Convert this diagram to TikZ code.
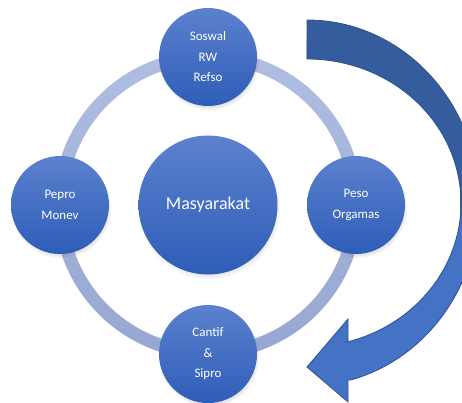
\documentclass[tikz,border=0pt]{standalone}
\usepackage{fontspec}
\setmainfont{Carlito}
\usetikzlibrary{shadows, positioning}

\definecolor{nodetop}{RGB}{92,129,205}
\definecolor{nodebot}{RGB}{46,93,184}
\definecolor{ringtop}{RGB}{176,190,226}
\definecolor{ringbot}{RGB}{150,166,208}
\definecolor{arrowdark}{RGB}{53,92,157}
\definecolor{arrowlight}{RGB}{68,114,196}
\definecolor{arrowline}{RGB}{47,82,143}

\begin{document}
\begin{tikzpicture}[x=1pt, y=-1pt,
  unit/.style={circle, inner sep=0pt, minimum size=98pt,
               top color=nodetop, bottom color=nodebot, text=white,
               font=\fontsize{13}{20.5}\selectfont, align=center,
               circular drop shadow={shadow xshift=1pt, shadow yshift=-3pt,
                                     shadow scale=1.03, opacity=0.35}},
  core/.style={unit, minimum size=139pt, font=\fontsize{18}{22}\selectfont}
]
  \useasboundingbox (0,0) rectangle (462,403);

  % Ring
  \shade[top color=ringtop, bottom color=ringbot, even odd rule]
    (208,205) circle[radius=154.5] circle[radius=141.5];

  % Circles
  \node[core] (masy) at (208,205) {Masyarakat};
  \node[unit] (soswal) at (208,57) {Soswal\\RW\\Refso};
  \node[unit] (pepro) at (60,205) {Pepro\\Monev};
  \node[unit] (peso) at (356,205) {Peso\\Orgamas};
  \node[unit] (cantif) at (208,354) {Cantif\\\&\\Sipro};

  % Curved arrow
  \begin{scope}
    \clip (0,0) rectangle (462,403);
    \fill[arrowlight] (307,20)
      arc[start angle=-90, end angle=75.3, x radius=172, y radius=183]
      -- (348,380) -- (348,402) -- (307,367) -- (348,319) -- (348,342)
      -- (347.1,342)
      arc[start angle=74.9, end angle=-90, x radius=154, y radius=144]
      -- cycle;
    \fill[arrowdark] (307,20)
      arc[start angle=-90, end angle=14, x radius=172, y radius=183]
      .. controls (462,240) and (459,215) .. (460.4,190.4)
      arc[start angle=-5, end angle=-90, x radius=154, y radius=144]
      -- cycle;
    \draw[arrowline, line width=0.8pt, line join=miter] (307,20)
      arc[start angle=-90, end angle=75.3, x radius=172, y radius=183]
      -- (348,380) -- (348,402) -- (307,367) -- (348,319) -- (348,342)
      -- (347.1,342)
      arc[start angle=74.9, end angle=-90, x radius=154, y radius=144]
      -- cycle;
  \end{scope}
\end{tikzpicture}
\end{document}
